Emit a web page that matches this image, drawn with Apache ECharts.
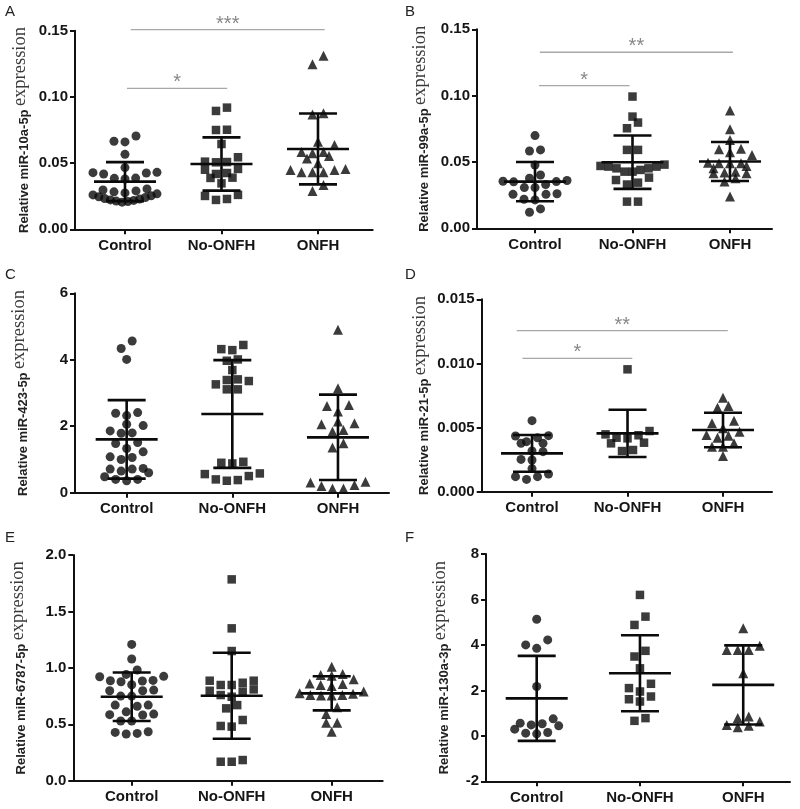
<!DOCTYPE html>
<html><head><meta charset="utf-8">
<script src="https://cdn.jsdelivr.net/npm/echarts@6/dist/echarts.min.js"></script>
<style>html,body{margin:0;padding:0;background:#fff}#c{width:800px;height:809px}</style>
</head><body><div id="c"></div>
<script>
// ---------------- DATA ----------------
const categories = ['Control', 'No-ONFH', 'ONFH'];

// Panel A: miR-10a-5p
const aControl = [0.0705, 0.0665, 0.0660, 0.0566, 0.0466, 0.0428, 0.0430, 0.0425, 0.0418, 0.0387, 0.0385, 0.0380, 0.0305,
  0.0297, 0.0290, 0.0283, 0.0275, 0.0268, 0.0260, 0.0253, 0.0246, 0.0240, 0.0233, 0.0228, 0.0222, 0.0218, 0.0213, 0.0210, 0.0205];
const aNoOnfh = [0.0919, 0.0894, 0.0750, 0.0752, 0.0644, 0.0544, 0.0508, 0.0511, 0.0506, 0.0456, 0.0450, 0.0425, 0.0418, 0.0390, 0.0388, 0.0347, 0.0252, 0.0222, 0.0229, 0.0260];
const aOnfh = [0.1310, 0.1246, 0.0868, 0.0876, 0.0662, 0.0637, 0.0584, 0.0574, 0.0534, 0.0554, 0.0584, 0.0498, 0.0448, 0.0430, 0.0430, 0.0430, 0.0448, 0.0456, 0.0290, 0.0335];
const aMean = [0.0360, 0.0493, 0.0607];
const aSd = [0.0147, 0.0201, 0.0268];
const aSigPairs = [[1.02, 2.06, 0.1065], [1.06, 3.07, 0.1508]];
const aSigLabels = ['*', '***'];

// Panel B: miR-99a-5p
const bControl = [0.0699, 0.0583, 0.0591, 0.0477, 0.0402, 0.0360, 0.0352, 0.0350, 0.0355, 0.0377, 0.0307, 0.0307, 0.0256, 0.0256, 0.0214, 0.0219, 0.0121, 0.0146, 0.0260, 0.0330];
const bNoOnfh = [0.0993, 0.0842, 0.0797, 0.0754, 0.0591, 0.0591, 0.0427, 0.0452, 0.0465, 0.0465, 0.0452, 0.0427, 0.0440, 0.0364, 0.0344, 0.0382, 0.0330, 0.0201, 0.0201, 0.0480, 0.0470];
const bOnfh = [0.0887, 0.0746, 0.0596, 0.0666, 0.0573, 0.0553, 0.0490, 0.0452, 0.0490, 0.0490, 0.0495, 0.0415, 0.0427, 0.0420, 0.0377, 0.0415, 0.0352, 0.0239, 0.0600, 0.0470];
const bMean = [0.0352, 0.0498, 0.0503];
const bSd = [0.0148, 0.0201, 0.0147];
const bSigPairs = [[1.04, 1.97, 0.1075], [1.05, 3.03, 0.1327]];
const bSigLabels = ['*', '**'];

// Panel C: miR-423-5p
const cControl = [4.01, 4.565, 4.34, 2.39, 2.32, 2.41, 2.02, 2.06, 1.86, 1.80, 1.79, 1.51, 1.33, 1.48, 1.23, 1.06, 1.08, 1.00, 0.71, 0.73, 0.71, 0.65, 0.60, 0.40, 0.36, 0.40, 0.48];
const cNoOnfh = [4.445, 4.29, 4.32, 3.97, 4.01, 3.69, 3.39, 3.26, 3.11, 3.11, 3.36, 3.41, 0.90, 0.88, 0.93, 0.56, 0.40, 0.36, 0.38, 0.50, 0.58];
const cOnfh = [4.90, 3.14, 2.61, 2.44, 2.64, 2.14, 2.06, 1.84, 1.89, 2.09, 1.49, 1.36, 0.31, 0.20, 0.13, 0.13, 0.23, 0.33];
const cMean = [1.605, 2.368, 1.666];
const cSd = [1.18, 1.62, 1.285];

// Panel D: miR-21-5p
const dControl = [0.00554, 0.00434, 0.00420, 0.00437, 0.00390, 0.00377, 0.00377, 0.00317, 0.00312, 0.00252, 0.00247, 0.00117, 0.00096, 0.00117, 0.00138, 0.00180];
const dNoOnfh = [0.00954, 0.00447, 0.00421, 0.00416, 0.00473, 0.00377, 0.00382, 0.00317, 0.00325, 0.00440];
const dOnfh = [0.00733, 0.00668, 0.00655, 0.00554, 0.00533, 0.00468, 0.00437, 0.00494, 0.00442, 0.00351, 0.00351, 0.00377, 0.00278, 0.00420];
const dMean = [0.00299, 0.00455, 0.00481];
const dSd = [0.00143, 0.00184, 0.00135];
const dSigPairs = [[0.90, 2.05, 0.0104], [0.84, 3.05, 0.01256]];
const dSigLabels = ['*', '**'];

// Panel E: miR-6787-5p
const eControl = [1.208, 1.078, 0.981, 0.921, 0.877, 0.883, 0.886, 0.889, 0.925, 0.942, 0.850, 0.797, 0.803, 0.797, 0.750, 0.750, 0.670, 0.670, 0.660, 0.610, 0.582, 0.590, 0.585, 0.529, 0.529, 0.434, 0.414, 0.419, 0.428];
const eNoOnfh = [1.784, 1.350, 1.149, 0.886, 0.868, 0.848, 0.886, 0.848, 0.809, 0.797, 0.790, 0.744, 0.759, 0.670, 0.641, 0.538, 0.479, 0.485, 0.183, 0.168, 0.168];
const eOnfh = [1.010, 0.936, 0.945, 0.898, 0.848, 0.862, 0.857, 0.839, 0.790, 0.770, 0.760, 0.755, 0.755, 0.760, 0.775, 0.590, 0.514, 0.514, 0.434, 0.650, 0.930];
const eMean = [0.744, 0.753, 0.774];
const eSd = [0.215, 0.381, 0.151];

// Panel F: miR-130a-3p
const fControl = [5.128, 4.00, 3.85, 4.22, 2.17, 0.747, 0.53, 0.44, 0.147, 0.088, 0.117, 0.293, 0.48, 0.557];
const fNoOnfh = [6.20, 5.245, 4.88, 3.74, 3.49, 2.97, 2.29, 1.95, 2.10, 1.61, 1.51, 1.73, 0.66, 0.78];
const fOnfh = [4.73, 3.78, 3.78, 3.78, 3.96, 2.75, 0.78, 0.48, 0.38, 0.44, 0.63, 0.85];
const fMean = [1.648, 2.754, 2.242];
const fSd = [1.868, 1.670, 1.740];

// Axis tick settings
const aTicks = {min: 0, max: 0.15, interval: 0.05, decimals: 2};
const bTicks = {min: 0, max: 0.15, interval: 0.05, decimals: 2};
const cTicks = {min: 0, max: 6, interval: 2, decimals: 0};
const dTicks = {min: 0, max: 0.015, interval: 0.005, decimals: 3};
const eTicks = {min: 0, max: 2, interval: 0.5, decimals: 1};
const fTicks = {min: -2, max: 8, interval: 2, decimals: 0};

// ---------------- LAYOUT ----------------
const panels = [
  {letter: 'A', gene: 'miR-10a-5p', groups: [aControl, aNoOnfh, aOnfh], mean: aMean, sd: aSd, ticks: aTicks, sig: aSigPairs, sigLab: aSigLabels,
   grid: {left: 75, top: 30.7, width: 297.7, height: 198.6}, xr: [0.482, 3.567], nameGap: 44, lp: [5, 4]},
  {letter: 'B', gene: 'miR-99a-5p', groups: [bControl, bNoOnfh, bOnfh], mean: bMean, sd: bSd, ticks: bTicks, sig: bSigPairs, sigLab: bSigLabels,
   grid: {left: 477, top: 29.3, width: 295, height: 199}, xr: [0.405, 3.431], nameGap: 46, lp: [405, 4]},
  {letter: 'C', gene: 'miR-423-5p', groups: [cControl, cNoOnfh, cOnfh], mean: cMean, sd: cSd, ticks: cTicks, sig: [], sigLab: [],
   grid: {left: 75, top: 293.3, width: 314, height: 199.4}, xr: [0.511, 3.483], nameGap: 45, lp: [5, 267]},
  {letter: 'D', gene: 'miR-21-5p', groups: [dControl, dNoOnfh, dOnfh], mean: dMean, sd: dSd, ticks: dTicks, sig: dSigPairs, sigLab: dSigLabels,
   grid: {left: 481.7, top: 299.3, width: 290.3, height: 192.4}, xr: [0.473, 3.513], nameGap: 51, lp: [405, 267]},
  {letter: 'E', gene: 'miR-6787-5p', groups: [eControl, eNoOnfh, eOnfh], mean: eMean, sd: eSd, ticks: eTicks, sig: [], sigLab: [],
   grid: {left: 73.3, top: 555, width: 309.4, height: 225.7}, xr: [0.416, 3.51], nameGap: 45, lp: [5, 530]},
  {letter: 'F', gene: 'miR-130a-3p', groups: [fControl, fNoOnfh, fOnfh], mean: fMean, sd: fSd, ticks: fTicks, sig: [], sigLab: [],
   grid: {left: 486, top: 554, width: 304, height: 227.3}, xr: [0.509, 3.453], nameGap: 35, lp: [405, 530]}
];

const symbols = ['circle', 'rect', 'triangle'];
const symbolSizes = [9, 8.5, 10];
const BIN = 8.5;    // row height in px
const SPACE = 11;   // preferred spacing within a row in px
const MAXW = 64;    // max row width in px

// GraphPad-like scatter layout: bin values into rows, spread each row around the category centre
function rowLayout(values, cx, pxX, pxY) {
  const idx = values.map((v, i) => i).sort((a, b) => values[a] - values[b]);
  const bins = [];
  let cur = null;
  for (const i of idx) {
    const py = values[i] * pxY;
    if (!cur || py - cur.start > BIN) { cur = {start: py, items: []}; bins.push(cur); }
    cur.items.push(i);
  }
  const out = new Array(values.length);
  bins.forEach(b => {
    const n = b.items.length;
    const s = n > 1 ? Math.min(SPACE, MAXW / (n - 1)) : 0;
    const slots = [];
    for (let j = 0; j < n; j++) slots.push((j - (n - 1) / 2) * s);
    slots.sort((a, c) => (Math.abs(a) - Math.abs(c)) || (a - c));
    b.items.forEach((i, j) => { out[i] = [cx + slots[j] / pxX, values[i]]; });
  });
  return out;
}

const option = {
  animation: false,
  backgroundColor: '#fff',
  grid: [], xAxis: [], yAxis: [], series: [], graphic: []
};

panels.forEach((p, k) => {
  option.grid.push(Object.assign({containLabel: false}, p.grid));
  const pxX = p.grid.width / (p.xr[1] - p.xr[0]);
  const pxY = p.grid.height / (p.ticks.max - p.ticks.min);
  option.xAxis.push({
    type: 'value', gridIndex: k, min: p.xr[0], max: p.xr[1],
    splitLine: {show: false},
    axisLine: {show: true, onZero: false, lineStyle: {color: '#111', width: 2}},
    axisTick: {show: true, length: 5, lineStyle: {color: '#111', width: 2}, customValues: [1, 2, 3]},
    axisLabel: {show: true, customValues: [1, 2, 3], formatter: v => categories[Math.round(v) - 1] || '',
      margin: 9, fontFamily: 'Liberation Sans, Arial, sans-serif', fontWeight: 'bold', fontSize: 15, color: '#151515'}
  });
  option.yAxis.push({
    type: 'value', gridIndex: k, min: p.ticks.min, max: p.ticks.max, interval: p.ticks.interval,
    splitLine: {show: false},
    axisLine: {show: true, onZero: false, lineStyle: {color: '#111', width: 2}},
    axisTick: {show: true, length: 5, lineStyle: {color: '#111', width: 2}},
    axisLabel: {margin: 7, formatter: v => v.toFixed(p.ticks.decimals),
      fontFamily: 'Liberation Sans, Arial, sans-serif', fontWeight: 'bold', fontSize: 15, color: '#151515'},
    name: '{a|Relative ' + p.gene + '} {b|expression}',
    nameLocation: 'middle', nameGap: p.nameGap, nameRotate: 90,
    nameTextStyle: {rich: {
      a: {fontFamily: 'Liberation Sans, Arial, sans-serif', fontWeight: 'bold', fontSize: 13, color: '#222', verticalAlign: 'bottom', lineHeight: 18},
      b: {fontFamily: 'Liberation Serif, Times New Roman, serif', fontSize: 18.5, color: '#3a3a3a', verticalAlign: 'bottom', lineHeight: 18, padding: [0, 0, 1, 0]}
    }}
  });
  p.groups.forEach((vals, g) => {
    option.series.push({
      type: 'scatter', xAxisIndex: k, yAxisIndex: k,
      symbol: symbols[g], symbolSize: symbolSizes[g],
      itemStyle: {color: '#0a0a0a'},
      data: rowLayout(vals, g + 1, pxX, pxY), z: 2
    });
  });
  option.series.push({
    type: 'custom', xAxisIndex: k, yAxisIndex: k, z: 3,
    encode: {x: 0, y: 1},
    data: p.mean.map((m, g) => [g + 1, m, p.sd[g]]),
    renderItem: (params, api) => {
      const x = api.value(0), m = api.value(1), s = api.value(2);
      const pm = api.coord([x, m]), pt = api.coord([x, m + s]), pb = api.coord([x, m - s]);
      const st = {stroke: '#0a0a0a', lineWidth: 2.6};
      const hw = 31, cw = 19;
      return {type: 'group', children: [
        {type: 'line', shape: {x1: pm[0] - hw, y1: pm[1], x2: pm[0] + hw, y2: pm[1]}, style: st},
        {type: 'line', shape: {x1: pt[0], y1: pt[1], x2: pb[0], y2: pb[1]}, style: st},
        {type: 'line', shape: {x1: pt[0] - cw, y1: pt[1], x2: pt[0] + cw, y2: pt[1]}, style: st},
        {type: 'line', shape: {x1: pb[0] - cw, y1: pb[1], x2: pb[0] + cw, y2: pb[1]}, style: st}
      ]};
    }
  });
  if (p.sig.length) {
    option.series.push({
      type: 'custom', xAxisIndex: k, yAxisIndex: k, z: 1, clip: false,
      encode: {x: [0, 1], y: 2},
      data: p.sig,
      renderItem: (params, api) => {
        const a = api.coord([api.value(0), api.value(2)]);
        const b = api.coord([api.value(1), api.value(2)]);
        return {type: 'group', children: [
          {type: 'line', shape: {x1: a[0], y1: a[1], x2: b[0], y2: b[1]}, style: {stroke: '#a8a8a8', lineWidth: 1.3}},
          {type: 'text', x: (a[0] + b[0]) / 2, y: a[1] - 5.5, style: {text: p.sigLab[params.dataIndex], fill: '#888',
            font: '20px Liberation Sans, Arial, sans-serif', align: 'center', verticalAlign: 'middle'}}
        ]};
      }
    });
  }
  option.graphic.push({type: 'text', left: p.lp[0], top: p.lp[1],
    style: {text: p.letter, fill: '#222', font: '15px Liberation Sans, Arial, sans-serif'}});
});

const chart = echarts.init(document.getElementById('c'), null, {renderer: 'canvas'});
chart.setOption(option);
</script>
</body></html>
